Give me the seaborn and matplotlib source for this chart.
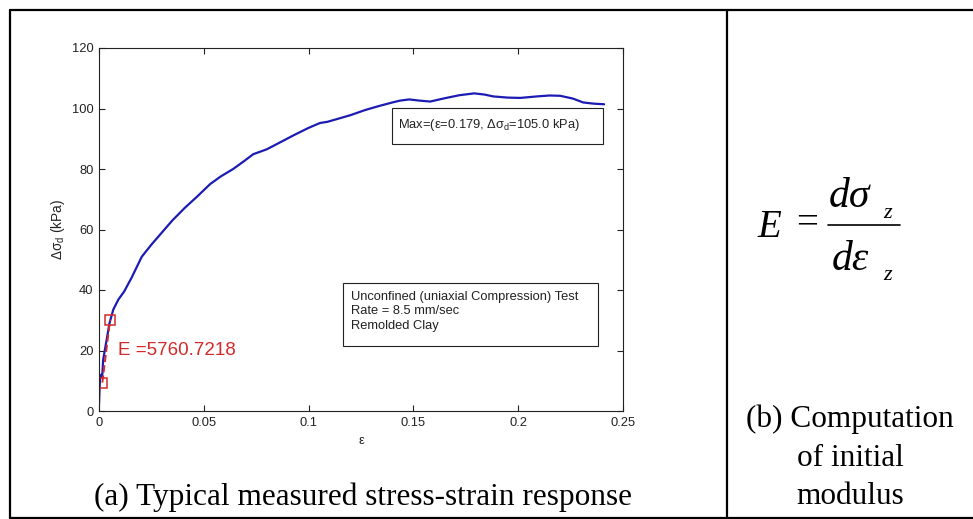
import numpy as np
import pandas as pd
import matplotlib
matplotlib.use("Agg")
import matplotlib.pyplot as plt
from matplotlib.lines import Line2D
from matplotlib.patches import Rectangle
import seaborn as sns

# ---------------- data ----------------
strain = [0, 0.0002, 0.0005, 0.001, 0.0015, 0.002, 0.003, 0.004, 0.005, 0.0068,
          0.0092, 0.012, 0.0155, 0.0204, 0.025, 0.03, 0.035, 0.041, 0.047, 0.053,
          0.058, 0.064, 0.069, 0.0736, 0.08, 0.0864, 0.093, 0.1, 0.1054, 0.109,
          0.113, 0.12, 0.127, 0.134, 0.14, 0.1436, 0.148, 0.153, 0.158, 0.165,
          0.172, 0.179, 0.184, 0.188, 0.195, 0.201, 0.209, 0.215, 0.22, 0.226,
          0.231, 0.236, 0.241]
stress = [2, 6, 11, 12, 11, 17, 21, 25, 29, 33.5,
          36.8, 39.5, 44, 51, 55, 59, 63, 67.2, 71, 75,
          77.5, 80, 82.5, 84.9, 86.5, 88.8, 91.2, 93.6, 95.2, 95.6,
          96.4, 97.8, 99.5, 100.9, 102.0, 102.6, 103.0, 102.6, 102.3, 103.4,
          104.4, 105.0, 104.6, 104.0, 103.6, 103.5, 104.0, 104.3, 104.2, 103.3,
          102.0, 101.6, 101.4]
fit_strain = [0.0016, 0.0053]
fit_stress = [9.4, 30.2]
x_ticks = [0, 0.05, 0.1, 0.15, 0.2, 0.25]
x_tick_labels = ["0", "0.05", "0.1", "0.15", "0.2", "0.25"]
y_ticks = [0, 20, 40, 60, 80, 100, 120]
modulus_label = "E =5760.7218"
max_label = r"Max=(ε=0.179, Δσ$_\mathregular{d}$=105.0 kPa)"
info_label = "Unconfined (uniaxial Compression) Test\nRate = 8.5 mm/sec\nRemolded Clay"
caption_a = "(a) Typical measured stress-strain response"
caption_b = ["(b) Computation", "of initial", "modulus"]
formula_lhs = "E"
formula_num = "dσ"
formula_den = "dε"
formula_sub = "z"

# ---------------- style ----------------
sns.set_style("ticks")
plt.rcParams["font.family"] = ["Liberation Sans", "DejaVu Sans"]
plt.rcParams["mathtext.fontset"] = "custom"
plt.rcParams["mathtext.rm"] = "Liberation Sans"
plt.rcParams["mathtext.it"] = "Liberation Sans:italic"

W, H = 973, 519
fig = plt.figure(figsize=(W / 100, H / 100), dpi=100)
fig.patch.set_facecolor("white")

ax = fig.add_axes([99 / W, 1 - 411 / H, (623 - 99) / W, (411 - 48) / H])

blue = "#1c1cb4"
red = "#d22a2a"
small = 9.3
dark = "#222222"

df = pd.DataFrame({"strain": strain, "stress": stress})
sns.lineplot(data=df, x="strain", y="stress", ax=ax, color=blue, lw=1.6,
             sort=False, estimator=None)
fit = pd.DataFrame({"strain": fit_strain, "stress": fit_stress})
sns.lineplot(data=fit, x="strain", y="stress", ax=ax, color=red, lw=1.4,
             linestyle="--", marker="s", markersize=6.5, markerfacecolor="none",
             markeredgecolor=red, markeredgewidth=1.1, sort=False, estimator=None)

ax.set_xlim(0, 0.25)
ax.set_ylim(0, 120)
ax.set_xticks(x_ticks)
ax.set_xticklabels(x_tick_labels)
ax.set_yticks(y_ticks)
ax.tick_params(direction="in", length=4, width=0.8, top=True, right=True,
               labelsize=small, colors=dark, pad=4)
for s in ax.spines.values():
    s.set_color(dark)
    s.set_linewidth(0.8)
    s.set_visible(True)

ax.set_xlabel("ε", fontsize=small, color=dark, labelpad=5)
ax.set_ylabel(r"Δσ$_\mathregular{d}$ (kPa)", fontsize=9.8, color=dark)
ax.yaxis.set_label_coords(-0.062, 0.5)

# annotation: modulus
ax.text(0.0091, 19.9, modulus_label, color=red, fontsize=13.5, va="center", ha="left")

# annotation boxes
ax.add_patch(Rectangle((0.1398, 88.2), 0.2405 - 0.1398, 100.1 - 88.2,
                       fill=False, ec=dark, lw=0.8))
ax.text(0.1427, 94.6, max_label, fontsize=small, color=dark, va="center", ha="left")

ax.add_patch(Rectangle((0.1164, 21.5), 0.2381 - 0.1164, 42.4 - 21.5,
                       fill=False, ec=dark, lw=0.8))
ax.text(0.1202, 32.9, info_label, fontsize=small, color=dark, va="center",
        ha="left", linespacing=1.3)

# ---------------- table frame ----------------
def fline(x0, y0, x1, y1, lw=1.6):
    fig.add_artist(Line2D([x0 / W, x1 / W], [1 - y0 / H, 1 - y1 / H],
                          transform=fig.transFigure, color="black", lw=lw))

fline(10, 10, W, 10)
fline(10, 517.5, W, 517.5)
fline(10, 10, 10, 517.5)
fline(727, 10, 727, 517.5)

# captions
serif = ["Liberation Serif", "DejaVu Serif"]
fig.text(363.5 / W, 1 - 505 / H, caption_a, family=serif, fontsize=22.5,
         ha="center", va="baseline", color="black")
for i, line in enumerate(caption_b):
    fig.text(850 / W, 1 - (427 + 38.5 * i) / H, line, family=serif, fontsize=22.5,
             ha="center", va="baseline", color="black")

# formula  E = dσ_z / dε_z
def ftext(x, y, s, size, style="italic", ha="left"):
    fig.text(x / W, 1 - y / H, s, family=serif, fontsize=size, style=style,
             ha=ha, va="baseline", color="black")

ftext(757, 237, formula_lhs, 28)
ftext(807.5, 233.5, "=", 28, style="normal", ha="center")
ftext(829, 207, formula_num, 30)
ftext(883, 218.5, formula_sub, 16)
fline(828, 225, 900, 225, lw=1.2)
ftext(832, 270, formula_den, 30)
ftext(883, 280.5, formula_sub, 16)

fig.savefig("out.png", dpi=100, facecolor="white")
